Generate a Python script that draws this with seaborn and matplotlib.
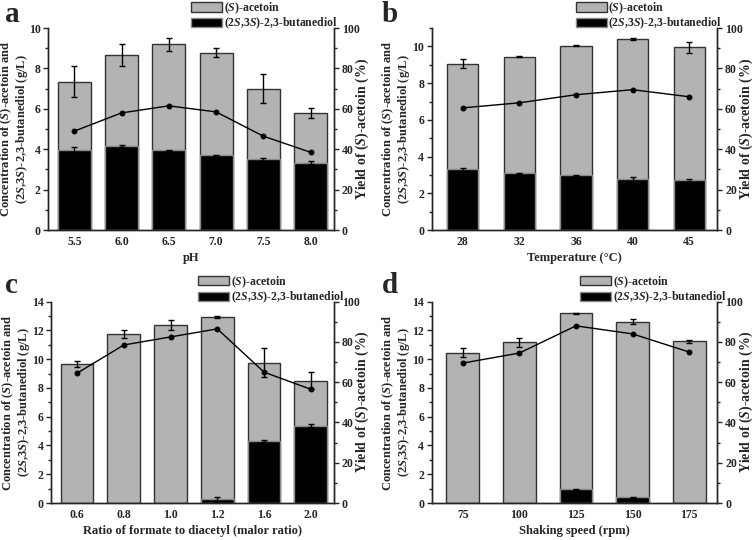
import numpy as np
import pandas as pd
import seaborn as sns
import matplotlib.pyplot as plt
from matplotlib.patches import Patch
from matplotlib.ticker import MultipleLocator

# a: pH
ph = ['5.5', '6.0', '6.5', '7.0', '7.5', '8.0']
ph_acetoin = [7.35, 8.68, 9.20, 8.77, 7.00, 5.80]
ph_acetoin_err = [0.75, 0.55, 0.33, 0.22, 0.72, 0.25]
ph_bd = [3.97, 4.18, 3.95, 3.70, 3.50, 3.33]
ph_bd_err = [0.15, 0.05, 0.03, 0.02, 0.08, 0.07]
ph_yield = [49.0, 58.0, 61.5, 58.5, 46.5, 38.5]

# b: temperature
temp = ['28', '32', '36', '40', '45']
temp_acetoin = [9.07, 9.45, 10.03, 10.40, 9.95]
temp_acetoin_err = [0.25, 0.03, 0.03, 0.06, 0.30]
temp_bd = [3.30, 3.08, 2.98, 2.78, 2.72]
temp_bd_err = [0.08, 0.04, 0.03, 0.13, 0.08]
temp_yield = [60.5, 63.0, 67.0, 69.5, 66.0]

# c: formate / diacetyl ratio
ratio = ['0.6', '0.8', '1.0', '1.2', '1.6', '2.0']
ratio_acetoin = [9.65, 11.75, 12.35, 12.95, 9.75, 8.50]
ratio_acetoin_err = [0.20, 0.30, 0.35, 0.05, 1.00, 0.60]
ratio_bd = [0.0, 0.0, 0.0, 0.25, 4.30, 5.38]
ratio_bd_err = [0.0, 0.0, 0.0, 0.15, 0.05, 0.10]
ratio_yield = [64.5, 78.5, 82.5, 86.5, 65.0, 56.5]

# d: shaking speed
speed = ['75', '100', '125', '150', '175']
speed_acetoin = [10.45, 11.18, 13.20, 12.62, 11.25]
speed_acetoin_err = [0.33, 0.30, 0.03, 0.17, 0.12]
speed_bd = [0.0, 0.0, 0.95, 0.40, 0.0]
speed_bd_err = [0.0, 0.0, 0.03, 0.02, 0.0]
speed_yield = [69.5, 74.5, 88.0, 84.0, 75.0]

sns.set_style('ticks')
plt.rcParams['font.family'] = ['Liberation Serif', 'DejaVu Serif']
plt.rcParams['font.weight'] = 'bold'
plt.rcParams['axes.labelweight'] = 'bold'
plt.rcParams['mathtext.fontset'] = 'custom'
plt.rcParams['mathtext.rm'] = 'Liberation Serif:bold'
plt.rcParams['mathtext.it'] = 'Liberation Serif:bold:italic'
plt.rcParams['axes.linewidth'] = 1.0

GREY = '#b3b3b3'
FS = 8.5
LFS = 9


def panel(ax, cats, acet, acet_err, bd, bd_err, yld, xlabel, ymax, ystep, width, letter,
		  legx, lx, ly, ylab_x):
	df = pd.DataFrame({'cat': cats, 'acetoin': acet, 'bd': bd})
	sns.barplot(data=df, x='cat', y='acetoin', order=cats, color=GREY, saturation=1,
				width=width, edgecolor='#333333', linewidth=1.0, errorbar=None, ax=ax)
	sns.barplot(data=df, x='cat', y='bd', order=cats, color='black', saturation=1,
				width=width, edgecolor='#8a8a8a', linewidth=1.0, errorbar=None, ax=ax)
	pos = np.arange(len(cats))
	ax.errorbar(pos, acet, yerr=acet_err, fmt='none', ecolor='black', elinewidth=1, capsize=2.5, capthick=1)
	bd = np.array(bd)
	m = bd > 0
	ax.errorbar(pos[m], bd[m], yerr=np.array(bd_err)[m], fmt='none', ecolor='black',
				elinewidth=1, capsize=2.5, capthick=1)

	# yield line on the right axis
	ax2 = ax.twinx()
	sns.pointplot(x=cats, y=yld, order=cats, color='black', markers='o', markersize=3.5,
				  linewidth=1, errorbar=None, ax=ax2)
	ax2.set_ylim(0, 100)
	ax2.yaxis.set_major_locator(MultipleLocator(20))
	ax2.yaxis.set_minor_locator(MultipleLocator(10))
	ax2.set_ylabel('Yield of ($S$)-acetoin (%)', fontsize=10, va='center', rotation=90)
	ax2.yaxis.set_label_coords(1.10, 0.5)
	ax2.tick_params(axis='y', which='major', direction='out', length=3.5, width=1, labelsize=FS, pad=2)
	ax2.tick_params(axis='y', which='minor', direction='out', length=2, width=1)

	ax.set_ylim(0, ymax)
	ax.yaxis.set_major_locator(MultipleLocator(ystep))
	ax.yaxis.set_minor_locator(MultipleLocator(ystep / 2))
	ax.tick_params(axis='y', which='major', direction='out', length=3.5, width=1, labelsize=FS, pad=2)
	ax.tick_params(axis='y', which='minor', direction='out', length=2, width=1)
	ax.tick_params(axis='x', length=0, labelsize=FS, pad=4)
	ax.set_xlabel(xlabel, fontsize=LFS, labelpad=3)
	ax.set_ylabel('Concentration of ($S$)-acetoin and\n(2$S$,3$S$)-2,3-butanediol (g/L)',
				  fontsize=LFS, va='center', linespacing=1.0)
	ax.yaxis.set_label_coords(ylab_x, 0.5)
	for a in (ax, ax2):
		a.spines['top'].set_visible(False)
		for s in a.spines.values():
			s.set_linewidth(1.0)
	n = len(cats)
	ax.set_xlim(-0.55, n - 0.5)

	handles = [Patch(facecolor=GREY, edgecolor='#333333', linewidth=1),
			   Patch(facecolor='black', edgecolor='#8a8a8a', linewidth=1)]
	ax2.legend(handles, ['($S$)-acetoin', '(2$S$,3$S$)-2,3-butanediol'], loc='upper left',
			   bbox_to_anchor=(legx, 1.137), frameon=False, fontsize=8.5, borderpad=0,
			   borderaxespad=0, handlelength=2.6, handleheight=0.8, labelspacing=0.0,
			   handletextpad=0.15)
	ax.figure.text(lx, ly, letter, fontsize=21, fontweight='bold', va='top', ha='left')


fig = plt.figure(figsize=(7.56, 5.4), dpi=100)
axa = fig.add_axes([0.064, 0.574, 0.378, 0.374])
axb = fig.add_axes([0.571, 0.574, 0.378, 0.374])
axc = fig.add_axes([0.068, 0.0685, 0.374, 0.3728])
axd = fig.add_axes([0.571, 0.0685, 0.378, 0.3728])

panel(axa, ph, ph_acetoin, ph_acetoin_err, ph_bd, ph_bd_err, ph_yield, 'pH', 10, 2, 0.7, 'a',
	  0.5, 0.006, 0.998, -0.118)
panel(axb, temp, temp_acetoin, temp_acetoin_err, temp_bd, temp_bd_err, temp_yield,
	  'Temperature (°C)', 11, 2, 0.55, 'b', 0.505, 0.505, 0.998, -0.123)
panel(axc, ratio, ratio_acetoin, ratio_acetoin_err, ratio_bd, ratio_bd_err, ratio_yield,
	  'Ratio of formate to diacetyl (malor ratio)', 14, 2, 0.7, 'c', 0.52, 0.006, 0.497, -0.125)
panel(axd, speed, speed_acetoin, speed_acetoin_err, speed_bd, speed_bd_err, speed_yield,
	  'Shaking speed (rpm)', 14, 2, 0.58, 'd', 0.52, 0.505, 0.497, -0.125)

fig.savefig('out.png', dpi=100)
